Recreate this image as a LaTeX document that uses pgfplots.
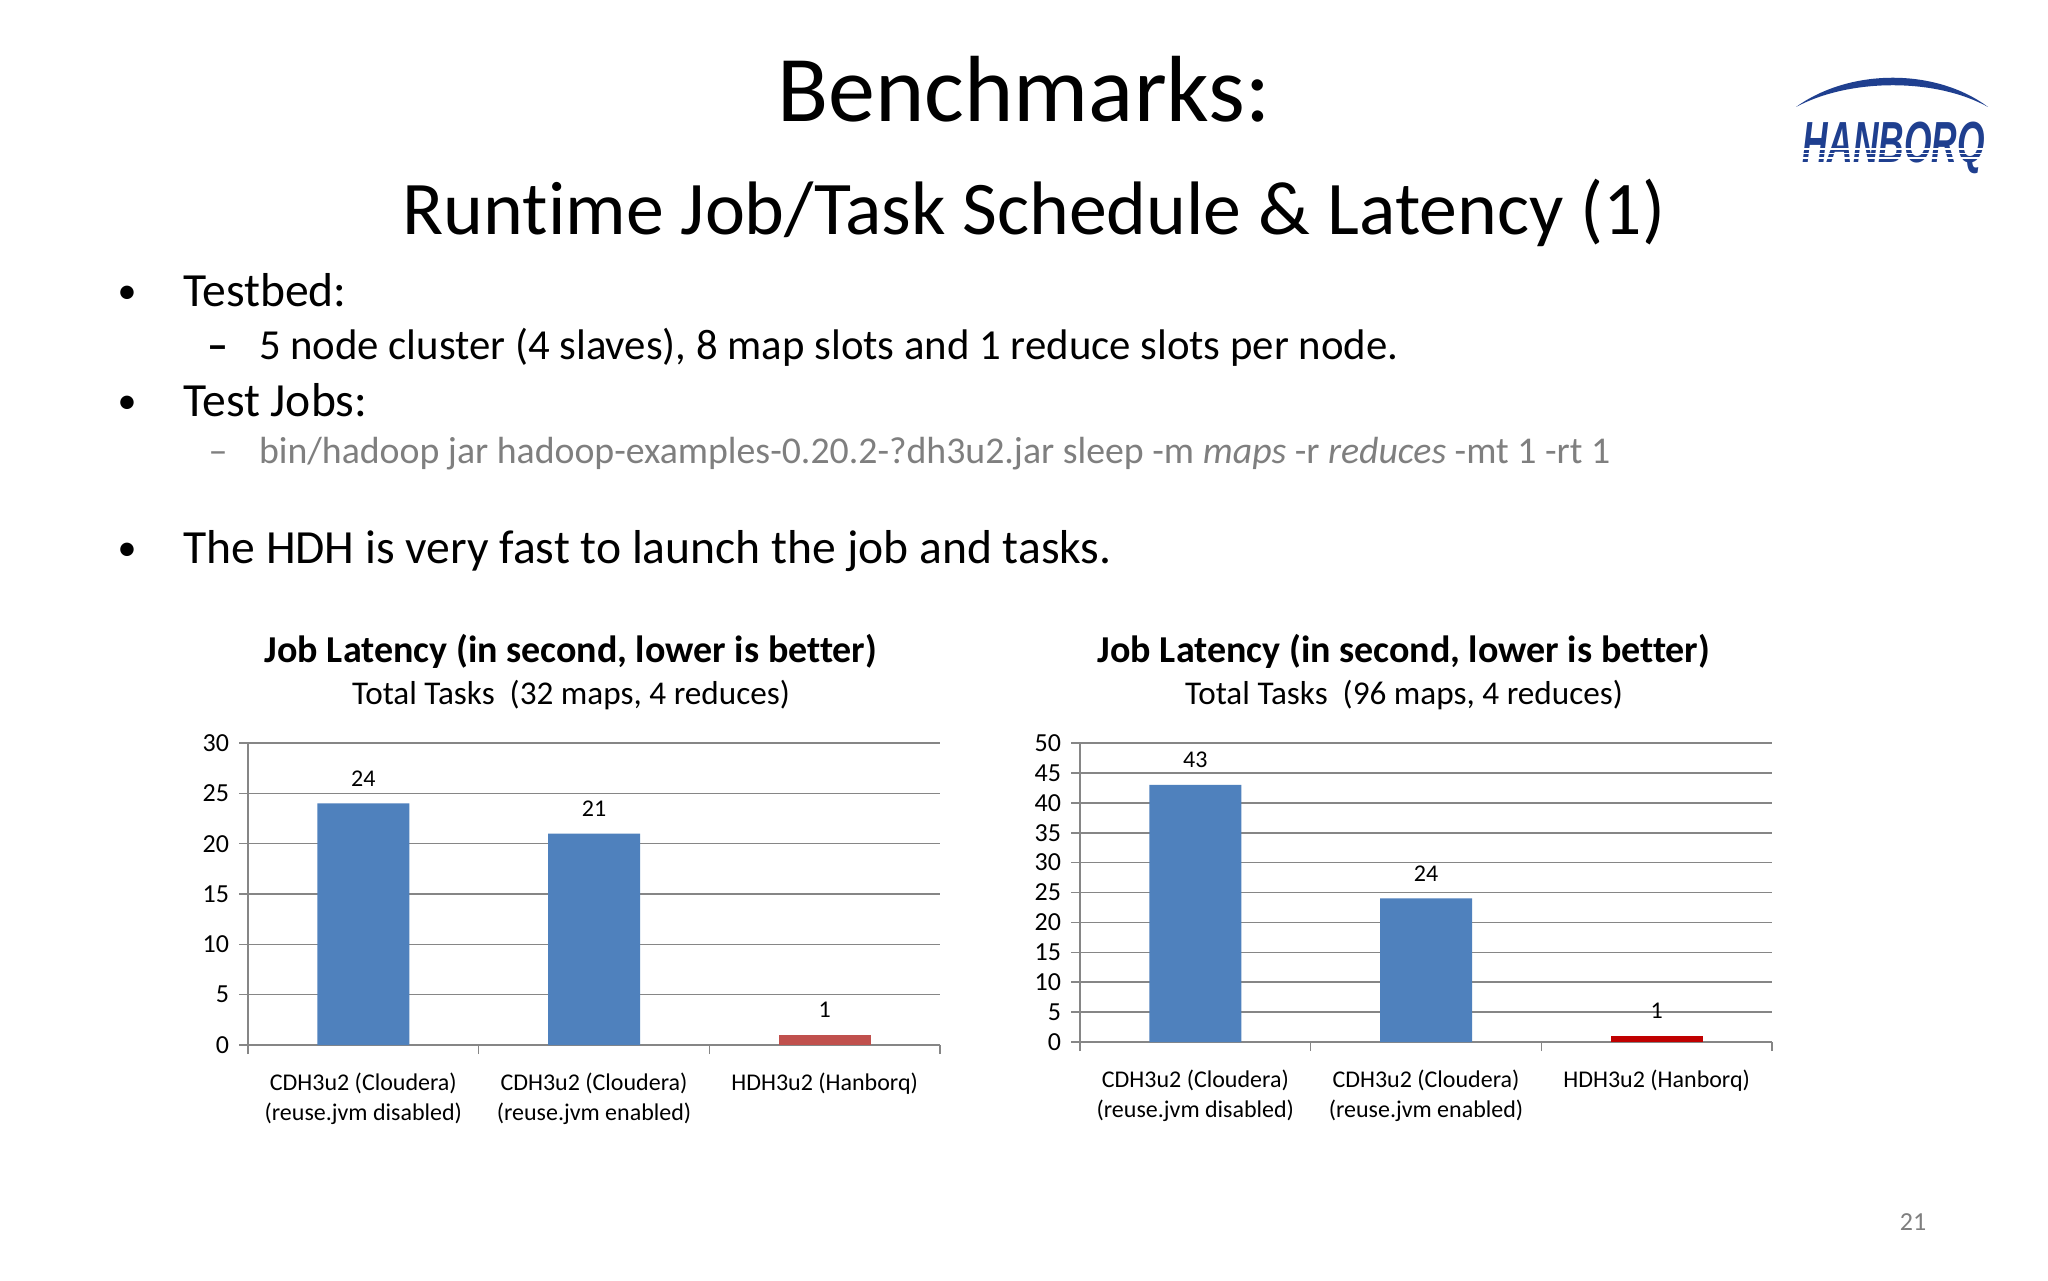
\documentclass[border=0pt]{standalone}
\usepackage{fontspec}
\setmainfont{Carlito}[Ligatures={NoCommon}]
\newfontfamily\logofont{Liberation Sans}
\usepackage{pgfplots}
\pgfplotsset{compat=1.18}
\definecolor{barblue}{HTML}{4F81BD}
\definecolor{barred}{HTML}{C0504D}
\definecolor{barredb}{HTML}{C00000}
\definecolor{gridgray}{HTML}{868686}
\definecolor{txtgray}{HTML}{7F7F7F}
\definecolor{logoblue}{HTML}{1F3F8F}
\pgfplotsset{
  latency/.style={
    scale only axis, width=346pt,
    /pgf/number format/assume math mode=true,
    ybar, ymin=0,
    xmin=0.5, xmax=3.5,
    axis x line*=bottom, axis y line*=left,
    axis line style={gridgray, line width=0.8pt, -},
    tick align=outside,
    major tick length=4.5pt,
    tick style={gridgray, line width=0.8pt},
    ymajorgrids, grid style={gridgray, line width=0.8pt},
    xtick={0.5,1.5,2.5,3.5}, xticklabels={},
    extra x ticks={1,2,3},
    extra x tick labels={{CDH3u2 (Cloudera)\\(reuse.jvm disabled)},{CDH3u2 (Cloudera)\\(reuse.jvm enabled)},{HDH3u2 (Hanborq)}},
    extra x tick style={major tick length=0pt, grid=none},
    x tick label style={align=center, font=\fontsize{12}{15}\selectfont, yshift=-10.3pt},
    y tick label style={font=\fontsize{13}{15}\selectfont, xshift=-1.5pt},
    nodes near coords,
    every node near coord/.append style={font=\fontsize{12}{14}\selectfont, text=black, anchor=south, inner sep=0pt, yshift=8.5pt},
  }
}
\begin{document}
\begin{tikzpicture}
\path[use as bounding box, fill=white] (0,0) rectangle (1024pt,640pt);
% titles
\node[anchor=base, inner sep=0, font=\fontsize{47}{50}\selectfont] at (512pt,579pt) {Benchmarks:};
\node[anchor=base, inner sep=0, font=\fontsize{37.9}{40}\selectfont] at (517pt,522.5pt) {Runtime Job/Task Schedule \& Latency (1)};
% logo
\fill[logoblue] (898pt,586.5pt) .. controls (925pt,606pt) and (968pt,606pt) .. (994pt,586.5pt)
   .. controls (968pt,601pt) and (925pt,601pt) .. cycle;
\node[anchor=base west, inner sep=0, font=\logofont\bfseries\itshape\fontsize{29}{29}\selectfont, xscale=0.61, text=logoblue] at (901pt,558.5pt) {HANBORQ};
\fill[white] (899pt,560.6pt) rectangle (996pt,561.3pt);
\fill[white] (899pt,562.9pt) rectangle (996pt,563.6pt);
\fill[white] (899pt,565.2pt) rectangle (996pt,565.9pt);
% bullets
\begin{scope}[every node/.style={inner sep=0}]
\node[anchor=base, font=\fontsize{19}{26}\selectfont] at (63.5pt,488pt) {•};
\node[anchor=base west, font=\fontsize{23.8}{26}\selectfont] at (91.5pt,486.5pt) {Testbed:};
\node[anchor=base, font=\bfseries\fontsize{21}{24}\selectfont] at (109pt,460pt) {–};
\node[anchor=base west, font=\fontsize{21.4}{24}\selectfont] at (129.3pt,460pt) {5 node cluster (4 slaves), 8 map slots and 1 reduce slots per node.};
\node[anchor=base, font=\fontsize{19}{26}\selectfont] at (63.5pt,433pt) {•};
\node[anchor=base west, font=\fontsize{23.8}{26}\selectfont] at (91.5pt,431.5pt) {Test Jobs:};
\node[anchor=base, font=\fontsize{19}{24}\selectfont, text=txtgray] at (109pt,408pt) {–};
\node[anchor=base west, font=\fontsize{18.9}{24}\selectfont, text=txtgray] at (129.3pt,408pt) {bin/hadoop jar hadoop-examples-0.20.2-?dh3u2.jar sleep -m \textit{maps} -r \textit{reduces} -mt 1 -rt 1};
\node[anchor=base, font=\fontsize{19}{26}\selectfont] at (63.5pt,359.5pt) {•};
\node[anchor=base west, font=\fontsize{23.8}{26}\selectfont] at (91.5pt,358pt) {The HDH is very fast to launch the job and tasks.};
% chart titles
\node[anchor=base, font=\bfseries\fontsize{19}{22}\selectfont] at (285.5pt,308.5pt) {Job Latency (in second, lower is better)};
\node[anchor=base, font=\fontsize{16.6}{19}\selectfont] at (285.5pt,287.5pt) {Total Tasks\ \ (32 maps, 4 reduces)};
\node[anchor=base, font=\bfseries\fontsize{19}{22}\selectfont] at (702pt,308.5pt) {Job Latency (in second, lower is better)};
\node[anchor=base, font=\fontsize{16.6}{19}\selectfont] at (702pt,287.5pt) {Total Tasks\ \ (96 maps, 4 reduces)};
% page number
\node[anchor=base, font=\fontsize{13}{15}\selectfont, text=txtgray] at (956.5pt,25pt) {21};
\end{scope}
% left chart
\begin{axis}[latency, height=151pt, at={(124pt,117.5pt)}, anchor=south west, ymax=30, ytick={0,5,...,30}]
\addplot[fill=barblue, draw=none, bar width=46pt, bar shift=0pt] coordinates {(1,24) (2,21)};
\addplot[fill=barred, draw=none, bar width=46pt, bar shift=0pt] coordinates {(3,1)};
\end{axis}
% right chart
\begin{axis}[latency, height=149.5pt, at={(540pt,119pt)}, anchor=south west, ymax=50, ytick={0,5,...,50}]
\addplot[fill=barblue, draw=none, bar width=46pt, bar shift=0pt] coordinates {(1,43) (2,24)};
\addplot[fill=barredb, draw=none, bar width=46pt, bar shift=0pt] coordinates {(3,1)};
\end{axis}
\end{tikzpicture}
\end{document}
